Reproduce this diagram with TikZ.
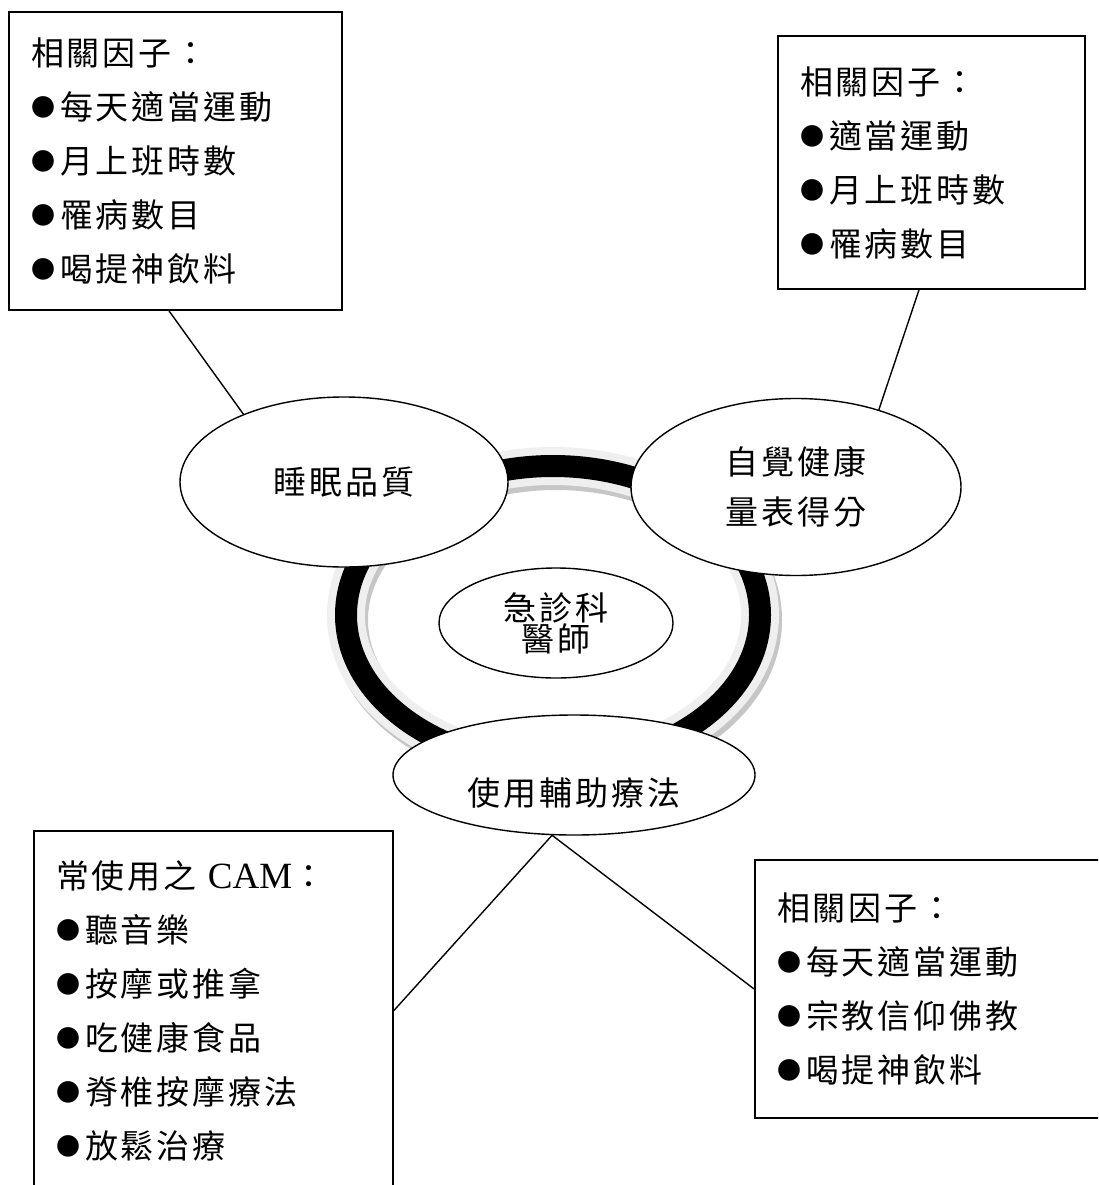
\documentclass[tikz,border=0pt]{standalone}
\usepackage{fontspec}
\setmainfont{Liberation Serif}
\newfontfamily\cjk[LetterSpace=9]{Noto Sans CJK TC}
\usetikzlibrary{shapes.geometric}
\definecolor{ringlight}{HTML}{EFEFEF}
\definecolor{ringshadow}{HTML}{C6C6C6}
\newcommand\bul{{\fontsize{24}{54}\selectfont\raisebox{3pt}{●}}\hspace{5pt}}
\tikzset{
  infobox/.style={draw, line width=1.8pt, rectangle, inner sep=0pt, inner xsep=22pt,
    align=left, font=\cjk\fontsize{33}{54}\selectfont},
  bubble/.style={draw, line width=1.4pt, ellipse, fill=white, inner sep=0pt,
    align=center, font=\cjk\fontsize{33}{50}\selectfont},
  link/.style={line width=1.4pt},
}
\begin{document}
\begin{tikzpicture}[x=1pt, y=-1pt]
\useasboundingbox (0,0) rectangle (1098,1185);
\fill[white] (0,0) rectangle (1098,1185);
\clip (0,0) rectangle (1098,1185);

% ring
\draw[ringshadow, line width=38pt] (556,620) ellipse [x radius=207, y radius=149];
\draw[ringlight, line width=38pt] (553,615) ellipse [x radius=207, y radius=149];
\draw[black, line width=22pt] (553,615) ellipse [x radius=207, y radius=149];

% bubbles
\node[bubble, minimum width=328pt, minimum height=170pt] (sleep) at (344,482) {睡眠品質};
\node[bubble, minimum width=330pt, minimum height=177pt] (health) at (796,487) {自覺健康\\量表得分};
\node[bubble, minimum width=234pt, minimum height=110pt, font=\cjk\fontsize{33}{31}\selectfont] (doc) at (556,623) {急診科\\醫師};
\node[bubble, minimum width=362pt, minimum height=120pt, text height=64pt, text depth=4pt] (cam) at (574,775) {使用輔助療法};

% boxes
\node[infobox, text width=289pt, minimum width=333pt, minimum height=298pt] (tl) at (175.5,161)
  {相關因子：\\\bul 每天適當運動\\\bul 月上班時數\\\bul 罹病數目\\\bul 喝提神飲料};
\node[infobox, text width=263pt, minimum width=307pt, minimum height=253pt] (tr) at (931.5,162.5)
  {相關因子：\\\bul 適當運動\\\bul 月上班時數\\\bul 罹病數目};
\node[infobox, text width=315pt, minimum width=359pt, minimum height=359pt] (bl) at (213.5,1010.5)
  {常使用之{\rmfamily\fontsize{37}{54}\selectfont\ CAM}：\\\bul 聽音樂\\\bul 按摩或推拿\\\bul 吃健康食品\\\bul 脊椎按摩療法\\\bul 放鬆治療};
\node[infobox, text width=316pt, minimum width=360pt, minimum height=258pt] (br) at (935,989)
  {相關因子：\\\bul 每天適當運動\\\bul 宗教信仰佛教\\\bul 喝提神飲料};

% connectors
\draw[link] ([xshift=-6.5pt]tl.south) -- (sleep.146);
\draw[link] ([xshift=-12.5pt]tr.south) -- (health.43);
\draw[link] (cam.250) -- (bl.east);
\draw[link] (cam.250) -- (br.west);
\end{tikzpicture}
\end{document}
